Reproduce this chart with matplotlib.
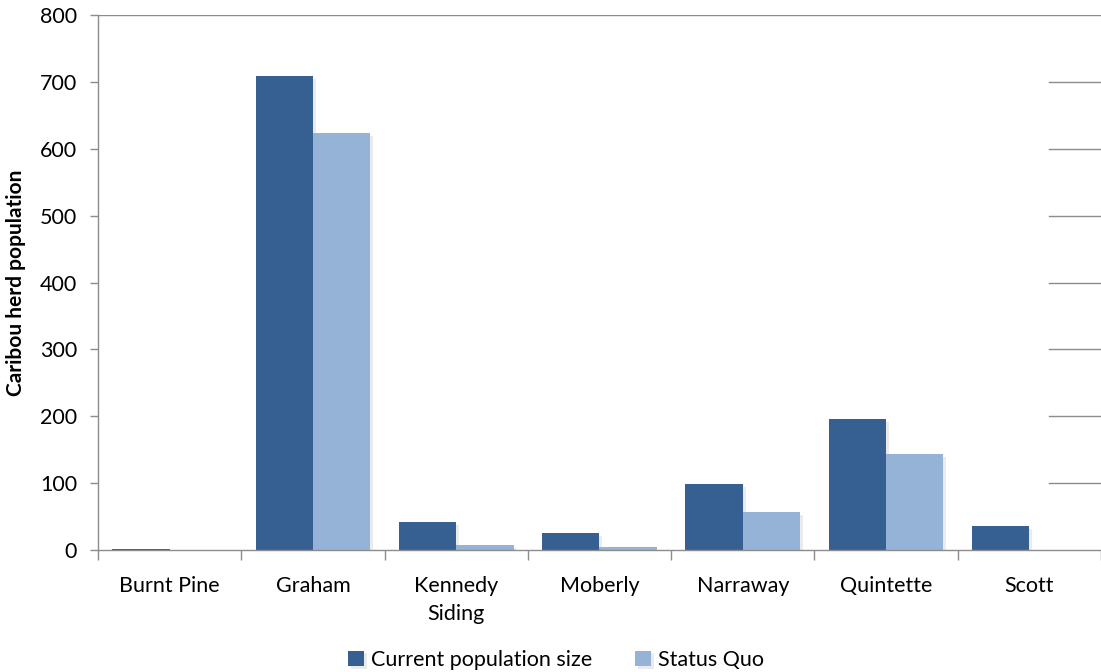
import matplotlib
matplotlib.use("Agg")
import matplotlib.pyplot as plt
import matplotlib.patheffects as pe
import numpy as np

herds = ["Burnt Pine", "Graham", "Kennedy\nSiding", "Moberly", "Narraway", "Quintette", "Scott"]
current_size = [1, 709, 42, 25, 99, 196, 36]
status_quo = [0, 623, 7, 4, 57, 143, 0]
y_ticks = [0, 100, 200, 300, 400, 500, 600, 700, 800]

DARK = "#376092"
LIGHT = "#95B3D7"
AXIS_GREY = "#8c8c8c"

plt.rcParams["font.family"] = ["Lato", "DejaVu Sans"]

fig = plt.figure(figsize=(11.01, 6.72), dpi=100)
ax = fig.add_axes([0.089, 0.1815, 0.911, 0.796])

x = np.arange(len(herds))
width = 0.4
shadow = [pe.SimplePatchShadow(offset=(2, -2), shadow_rgbFace="#c8c8c8", alpha=0.35), pe.Normal()]
b1 = ax.bar(x - width / 2, current_size, width, color=DARK, label="Current population size", zorder=3)
b2 = ax.bar(x + width / 2, status_quo, width, color=LIGHT, label="Status Quo", zorder=3)
for bar in list(b1) + list(b2):
    bar.set_path_effects(shadow)

ax.set_xlim(-0.5, len(herds) - 0.5)
ax.set_ylim(0, 800)

# gridlines: top one spans the whole plot, the rest only peek out on the right
ax.axhline(800, color=AXIS_GREY, lw=1, zorder=1)
for v in y_ticks[1:-1]:
    ax.axhline(v, xmin=0.948, xmax=1.0, color=AXIS_GREY, lw=1, zorder=1)

ax.set_yticks(y_ticks)
ax.set_yticklabels([str(v) for v in y_ticks])
ax.set_xticks(x)
ax.set_xticklabels(herds, linespacing=1.45)
ax.set_xticks(np.arange(-0.5, len(herds) - 0.4, 1), minor=True)
ax.tick_params(axis="x", which="major", length=0, pad=19, labelsize=15.5)
ax.tick_params(axis="x", which="minor", length=7, color=AXIS_GREY, width=1)
ax.tick_params(axis="y", length=6, color=AXIS_GREY, width=1, labelsize=15.5, pad=9)

for side in ["top", "right"]:
    ax.spines[side].set_visible(False)
for side in ["left", "bottom"]:
    ax.spines[side].set_color(AXIS_GREY)
    ax.spines[side].set_linewidth(1)
ax.spines["bottom"].set_zorder(4)

ax.set_ylabel("Caribou herd population", fontsize=15, fontweight="bold", labelpad=10)

fig.legend(handles=[b1, b2], loc="center", bbox_to_anchor=(0.505, 0.018), ncol=2,
           frameon=False, fontsize=15.5, handlelength=0.75, handleheight=0.75,
           handletextpad=0.3, columnspacing=2.0)

fig.savefig("out.png", dpi=100)
